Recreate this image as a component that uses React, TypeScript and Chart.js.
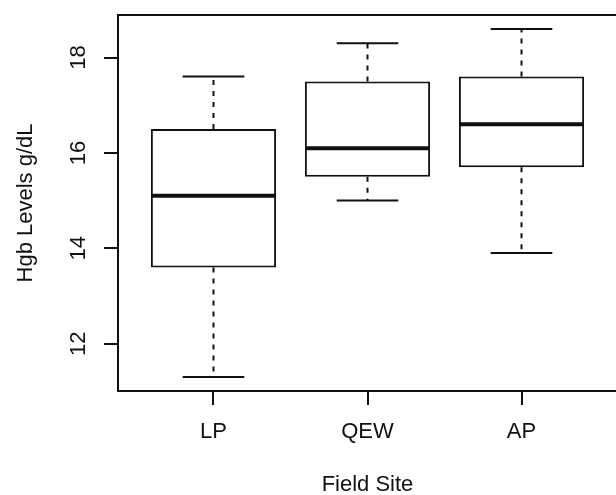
import React, { useEffect, useRef } from "react";
import { Chart, registerables } from "chart.js";

Chart.register(...registerables);

// ---- data ----
const categories = ["LP", "QEW", "AP"];
const positions = [1, 2, 3];
const whiskerLow = [11.3, 15.0, 13.9];
const q1 = [13.6, 15.5, 15.7];
const median = [15.1, 16.1, 16.6];
const q3 = [16.5, 17.5, 17.6];
const whiskerHigh = [17.6, 18.3, 18.6];
const yTicks = [12, 14, 16, 18];
const xRange = [0.38, 3.62];
const yRange = [11.008, 18.892];
const xTitle = "Field Site";
const yTitle = "Hgb Levels g/dL";

const INK = "#111111";
const FONT = "'Liberation Sans', Arial, Helvetica, sans-serif";

const boxPlugin = {
  id: "boxWhiskers",
  afterDatasetsDraw(chart: any) {
    const { ctx, chartArea } = chart;
    const x = chart.scales.x;
    const y = chart.scales.y;
    ctx.save();
    ctx.strokeStyle = INK;
    ctx.lineCap = "butt";
    // whiskers (dashed)
    ctx.lineWidth = 2;
    ctx.setLineDash([5, 6]);
    positions.forEach((p, i) => {
      const px = x.getPixelForValue(p);
      ctx.beginPath();
      ctx.moveTo(px, y.getPixelForValue(q3[i]));
      ctx.lineTo(px, y.getPixelForValue(whiskerHigh[i]));
      ctx.moveTo(px, y.getPixelForValue(q1[i]));
      ctx.lineTo(px, y.getPixelForValue(whiskerLow[i]));
      ctx.stroke();
    });
    ctx.setLineDash([]);
    // caps
    positions.forEach((p, i) => {
      const l = x.getPixelForValue(p - 0.2);
      const r = x.getPixelForValue(p + 0.2);
      ctx.beginPath();
      [whiskerHigh[i], whiskerLow[i]].forEach((v) => {
        const py = y.getPixelForValue(v);
        ctx.moveTo(l, py);
        ctx.lineTo(r, py);
      });
      ctx.stroke();
    });
    // medians
    ctx.lineWidth = 4;
    positions.forEach((p, i) => {
      const l = x.getPixelForValue(p - 0.4);
      const r = x.getPixelForValue(p + 0.4);
      const py = y.getPixelForValue(median[i]);
      ctx.beginPath();
      ctx.moveTo(l, py);
      ctx.lineTo(r, py);
      ctx.stroke();
    });
    // plot frame
    ctx.lineWidth = 2;
    ctx.strokeRect(
      chartArea.left,
      chartArea.top,
      chartArea.right - chartArea.left,
      chartArea.bottom - chartArea.top
    );
    ctx.restore();
  },
};

export default function App() {
  const canvasRef = useRef<HTMLCanvasElement | null>(null);

  useEffect(() => {
    if (!canvasRef.current) return;
    const chart = new Chart(canvasRef.current, {
      type: "bar",
      data: {
        datasets: [
          {
            data: positions.map((p, i) => ({ x: p, y: [q1[i], q3[i]] })) as any,
            backgroundColor: "#ffffff",
            borderColor: INK,
            borderWidth: 2,
            borderSkipped: false,
            categoryPercentage: 1,
            barPercentage: 0.813,
          },
        ],
      },
      options: {
        animation: false,
        responsive: false,
        devicePixelRatio: 1,
        layout: { padding: { top: 15, right: 3, left: 0, bottom: 0 } },
        plugins: {
          legend: { display: false },
          tooltip: { enabled: false },
        },
        scales: {
          x: {
            type: "linear",
            min: xRange[0],
            max: xRange[1],
            offset: false,
            afterBuildTicks: (scale: any) => {
              scale.ticks = positions.map((v) => ({ value: v }));
            },
            afterFit: (scale: any) => {
              scale.height = 109;
              scale.paddingLeft = 0;
              scale.paddingRight = 0;
            },
            border: { display: false },
            grid: {
              offset: false,
              drawOnChartArea: false,
              drawTicks: true,
              tickLength: 14,
              tickWidth: 2,
              tickColor: INK,
              color: INK,
              lineWidth: 2,
            },
            ticks: {
              autoSkip: false,
              maxRotation: 0,
              minRotation: 0,
              padding: 14,
              color: INK,
              font: { family: FONT, size: 22 },
              callback: (v: any) => categories[positions.indexOf(Number(v))] ?? "",
            },
            title: {
              display: true,
              text: xTitle,
              color: INK,
              font: { family: FONT, size: 22 },
              padding: { top: 0, bottom: 2 },
            },
          },
          y: {
            type: "linear",
            min: yRange[0],
            max: yRange[1],
            afterBuildTicks: (scale: any) => {
              scale.ticks = yTicks.map((v) => ({ value: v }));
            },
            afterFit: (scale: any) => {
              scale.width = 118;
              scale.paddingTop = 0;
              scale.paddingBottom = 0;
            },
            border: { display: false },
            grid: {
              drawOnChartArea: false,
              drawTicks: true,
              tickLength: 14,
              tickWidth: 2,
              tickColor: INK,
              color: INK,
              lineWidth: 2,
            },
            ticks: {
              autoSkip: false,
              minRotation: 90,
              maxRotation: 90,
              crossAlign: "center",
              padding: 13,
              color: INK,
              font: { family: FONT, size: 22 },
              callback: (v: any) => String(v),
            },
            title: {
              display: true,
              text: yTitle,
              color: INK,
              font: { family: FONT, size: 22 },
              padding: { top: 13, bottom: 0 },
            },
          },
        },
      },
      plugins: [boxPlugin],
    } as any);
    return () => chart.destroy();
  }, []);

  return (
    <div
      style={{
        position: "fixed",
        left: 0,
        top: 0,
        width: 616,
        height: 495,
        overflow: "hidden",
        background: "#ffffff",
      }}
    >
      <canvas ref={canvasRef} width={620} height={500} style={{ display: "block" }} />
    </div>
  );
}
